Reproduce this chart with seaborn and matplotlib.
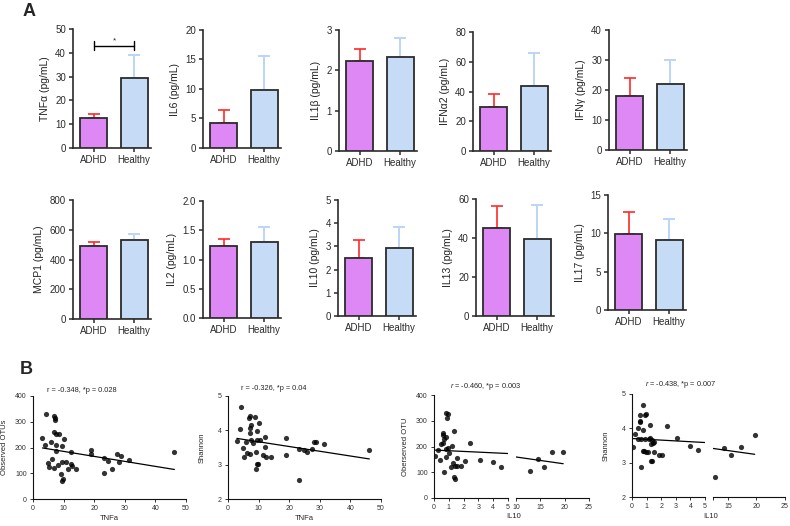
import numpy as np
import pandas as pd
import matplotlib
matplotlib.use("Agg")
import matplotlib.pyplot as plt
import seaborn as sns

# ---- panel A: cytokine levels (mean, upper error) ----
groups = ["ADHD", "Healthy"]
cytokines = ["TNFα", "IL6", "IL1β", "IFNα2", "IFNγ", "MCP1", "IL2", "IL10", "IL13", "IL17"]
adhd_mean = [12.6, 4.3, 2.24, 29.7, 18.1, 492, 1.225, 2.49, 44.9, 9.97]
adhd_err = [1.7, 2.15, 0.30, 8.7, 5.8, 29, 0.13, 0.77, 11.6, 2.77]
healthy_mean = [29.4, 9.86, 2.34, 43.6, 22.1, 530, 1.305, 2.94, 39.7, 9.1]
healthy_err = [9.5, 5.74, 0.46, 22.5, 7.9, 44, 0.255, 0.91, 17.0, 2.73]
y_max = [50, 20, 3, 80, 40, 800, 2.0, 5, 60, 15]
y_step = [10, 5, 1, 20, 10, 200, 0.5, 1, 20, 5]

# ---- panel B: correlations ----
tnfa_otu_x = [4.1, 7.0, 7.3, 7.3, 6.8, 7.4, 8.6, 3.1, 10.2, 6.0, 3.9, 7.5, 9.6, 7.4, 12.3,
              19.1, 19.1, 46.2, 6.1, 5.0, 5.3, 7.0, 8.3, 9.4, 10.7, 12.3, 12.6, 11.3, 14.1, 9.0,
              9.9, 9.6, 23.3, 24.6, 27.6, 28.6, 28.0, 31.3, 25.9, 23.3]
otu_y = [329, 324, 314, 306, 260, 254, 252, 238, 233, 220, 209, 209, 204, 187, 183,
         192, 174, 182, 154, 139, 123, 120, 132, 144, 144, 137, 128, 115, 116, 97,
         76, 69, 159, 149, 176, 167, 145, 152, 118, 102]

tnfa_shannon_x = [4.1, 7.2, 8.7, 7.0, 10.2, 7.6, 7.1, 3.9, 7.3, 9.6, 12.2, 19.1, 2.9, 5.9, 7.4,
                  8.2, 9.5, 10.5, 5.0, 12.2, 6.1, 7.1, 9.2, 11.3, 5.3, 12.5, 14.2, 19.1, 9.9, 9.6,
                  9.0, 23.3, 23.3, 24.7, 25.9, 27.4, 28.0, 28.7, 31.4, 46.2]
shannon_y = [4.68, 4.43, 4.39, 4.35, 4.21, 4.15, 4.08, 4.05, 3.93, 3.98, 3.81, 3.79, 3.70, 3.67, 3.71,
             3.64, 3.71, 3.71, 3.49, 3.51, 3.34, 3.30, 3.38, 3.29, 3.21, 3.21, 3.21, 3.29, 3.03, 3.03,
             2.87, 2.56, 3.46, 3.42, 3.37, 3.46, 3.66, 3.67, 3.59, 3.43]

il10_otu_x = [0.09, 0.29, 0.43, 0.68, 0.45, 0.59, 0.63, 0.70, 0.63, 0.79, 0.83, 0.92, 0.88, 0.81,
              0.95, 0.81, 1.04, 1.24, 1.33, 1.15, 1.28, 1.40, 1.35, 1.40, 1.53, 1.58, 1.85, 2.09,
              2.41, 3.09, 3.96, 4.53, 12.8, 14.5, 15.7, 17.3, 19.7]
otu2_y = [163, 185, 148, 101, 210, 251, 245, 228, 214, 238, 329, 325, 312, 192, 195, 159, 173, 203,
          259, 119, 137, 75, 80, 126, 154, 123, 124, 142, 212, 146, 141, 122, 105, 150, 119, 179, 179]

il10_shannon_x = [0.05, 0.21, 0.39, 0.43, 0.53, 0.57, 0.57, 0.62, 0.64, 0.75, 0.75, 0.75, 0.80,
                  0.87, 0.98, 0.87, 0.98, 1.10, 1.16, 1.26, 1.26, 1.35, 1.30, 1.32, 1.39, 1.48,
                  1.44, 1.51, 1.83, 2.05, 2.37, 3.06, 3.95, 4.50, 12.7, 14.4, 15.5, 17.3, 19.7]
shannon2_y = [3.47, 3.83, 4.01, 3.68, 4.39, 4.22, 4.17, 3.68, 2.88, 4.68, 3.95, 3.34, 3.34,
              4.39, 4.42, 3.68, 3.31, 3.30, 3.68, 4.09, 3.71, 3.66, 3.54, 3.04, 3.04, 3.61,
              3.56, 3.31, 3.22, 3.22, 4.06, 3.73, 3.50, 3.37, 2.57, 3.43, 3.22, 3.47, 3.81]

sns.set_style("ticks")
plt.rcParams["font.family"] = ["Liberation Sans", "DejaVu Sans"]
plt.rcParams["mathtext.fontset"] = "custom"
plt.rcParams["mathtext.it"] = "Liberation Sans:italic"
plt.rcParams["mathtext.rm"] = "Liberation Sans"

W, H = 790, 526
fig = plt.figure(figsize=(W / 100, H / 100), dpi=100)


def px_axes(left, top, right, bottom):
    return fig.add_axes([left / W, 1 - bottom / H, (right - left) / W, (bottom - top) / H])


violet = "#de88f6"
light_blue = "#c6dcf6"
err_red = "#ff2a2a"
err_blue = "#bcd5f8"
dark = "#2b2b2b"

bar_boxes = [(73, 29, 151, 148), (203, 30, 281, 148), (339, 30, 417, 151),
             (473, 32, 551, 151), (609, 30, 687, 150),
             (73, 200, 151, 319), (203, 201, 281, 318), (338, 200, 416, 316),
             (476, 199, 554, 316), (608, 195, 686, 310)]

for i, name in enumerate(cytokines):
    ax = px_axes(*bar_boxes[i])
    df = pd.DataFrame({"group": groups, "value": [adhd_mean[i], healthy_mean[i]]})
    sns.barplot(data=df, x="group", y="value", hue="group", palette=[violet, light_blue],
                saturation=1, width=0.67, edgecolor=dark, linewidth=1.3, errorbar=None,
                legend=False, ax=ax, zorder=3)
    ax.errorbar([0], [adhd_mean[i]], yerr=[[0], [adhd_err[i]]], fmt="none", ecolor=err_red,
                elinewidth=1.2, capsize=4, capthick=1.2, zorder=2)
    ax.errorbar([1], [healthy_mean[i]], yerr=[[0], [healthy_err[i]]], fmt="none", ecolor=err_blue,
                elinewidth=1.4, capsize=4, capthick=1.4, zorder=2)
    ax.set_xlim(-0.52, 1.42)
    ax.set_ylim(0, y_max[i])
    ticks = np.arange(0, y_max[i] + y_step[i] / 2, y_step[i])
    ax.set_yticks(ticks)
    if y_step[i] < 1:
        ax.set_yticklabels([f"{t:.1f}" for t in ticks])
    else:
        ax.set_yticklabels([f"{t:g}" for t in ticks])
    ax.set_xlabel("")
    ax.set_ylabel(f"{name} (pg/mL)", fontsize=7.5, labelpad=4, color="#222222")
    sns.despine(ax=ax)
    for s in ["left", "bottom"]:
        ax.spines[s].set_linewidth(1.2)
        ax.spines[s].set_color(dark)
    ax.tick_params(axis="both", labelsize=7, length=3, width=1.1, pad=2, colors=dark)

    if i == 0:
        # significance bracket
        ax.plot([0, 1], [43, 43], color="black", lw=1.0, clip_on=False)
        ax.plot([0, 0], [41, 45], color="black", lw=1.0, clip_on=False)
        ax.plot([1, 1], [41, 45], color="black", lw=1.0, clip_on=False)
        ax.text(0.5, 43.4, "*", ha="center", va="bottom", fontsize=6)

fig.text(23 / W, 1 - 11 / H, "A", fontsize=13, weight="bold", va="center")
fig.text(20 / W, 1 - 370 / H, "B", fontsize=13, weight="bold", va="center")

scatter_kws = {"s": 14, "linewidths": 0, "color": "black"}
line_kws = {"linewidth": 0.9, "color": "black"}


def style_scatter(ax, left=True):
    sns.despine(ax=ax, left=not left)
    for s in ["left", "bottom"]:
        ax.spines[s].set_linewidth(0.8)
        ax.spines[s].set_color("#111111")
    ax.tick_params(axis="both", labelsize=5, length=2.5, width=0.7, pad=2, colors="#333333")
    ax.set_xlabel("")
    ax.set_ylabel("")


# TNFa vs Observed OTUs
ax = px_axes(33, 396, 186, 499)
sns.regplot(x=tnfa_otu_x, y=otu_y, ci=None, ax=ax, scatter_kws=scatter_kws, line_kws=line_kws)
ax.set_xlim(0, 50)
ax.set_ylim(0, 400)
ax.set_xticks(range(0, 51, 10))
ax.set_yticks(range(0, 401, 100))
style_scatter(ax)
ax.set_ylabel("Observed OTUs", fontsize=5.5, labelpad=5)
fig.text(109 / W, 1 - 519 / H, "TNFa", fontsize=5.5, ha="center", va="center")
fig.text(82 / W, 1 - 390 / H, "r = -0.348, *p = 0.028", fontsize=5.3, ha="center", va="center")

# TNFa vs Shannon
ax = px_axes(228, 396, 381, 499)
sns.regplot(x=tnfa_shannon_x, y=shannon_y, ci=None, ax=ax, scatter_kws=scatter_kws, line_kws=line_kws)
ax.set_xlim(0, 50)
ax.set_ylim(2, 5)
ax.set_xticks(range(0, 51, 10))
ax.set_yticks([2, 3, 4, 5])
style_scatter(ax)
ax.set_ylabel("Shannon", fontsize=5.5, labelpad=9)
fig.text(304 / W, 1 - 519 / H, "TNFa", fontsize=5.5, ha="center", va="center")
fig.text(274 / W, 1 - 388 / H, "r = -0.326, *p = 0.04", fontsize=5.3, ha="center", va="center")

# IL10 panels with broken x axis
broken = [
    (il10_otu_x, otu2_y, (434, 395, 508, 498), (516, 395, 589, 498), (0, 400), range(0, 401, 100),
     10, [10, 15, 20, 25], "Oberserved OTU", 5, 486, 386, r"$r$ = -0.460, *p = 0.003"),
    (il10_shannon_x, shannon2_y, (632, 394, 705, 497), (713, 394, 785, 497), (2, 5), [2, 3, 4, 5],
     12.4, [15, 20, 25], "Shannon", 9, 681, 385, r"$r$ = -0.438, *p = 0.007"),
]
for xs, ys, left_box, right_box, ylim, yticks, seg_start, seg_ticks, ylabel, pad, tx, ty, txt in broken:
    axl = px_axes(*left_box)
    axr = px_axes(*right_box)
    for a in (axl, axr):
        sns.regplot(x=xs, y=ys, ci=None, ax=a, scatter_kws=scatter_kws, line_kws=line_kws)
        a.set_ylim(*ylim)
    axl.set_xlim(0, 5)
    axl.set_xticks(range(0, 6))
    axl.set_yticks(yticks)
    axr.set_xlim(seg_start, 25)
    axr.set_xticks(seg_ticks)
    axr.set_xticks([seg_start], minor=True)
    axr.set_yticks([])
    style_scatter(axl)
    style_scatter(axr, left=False)
    axr.tick_params(axis="x", which="minor", length=2.5, width=0.7)
    axl.set_ylabel(ylabel, fontsize=5.5, labelpad=pad)
    fig.text((right_box[0] - 2) / W, 1 - 517 / H, "IL10", fontsize=5.5, ha="center", va="center")
    fig.text(tx / W, 1 - ty / H, txt, fontsize=5.3, ha="center", va="center")

fig.savefig("out.png", dpi=100)
